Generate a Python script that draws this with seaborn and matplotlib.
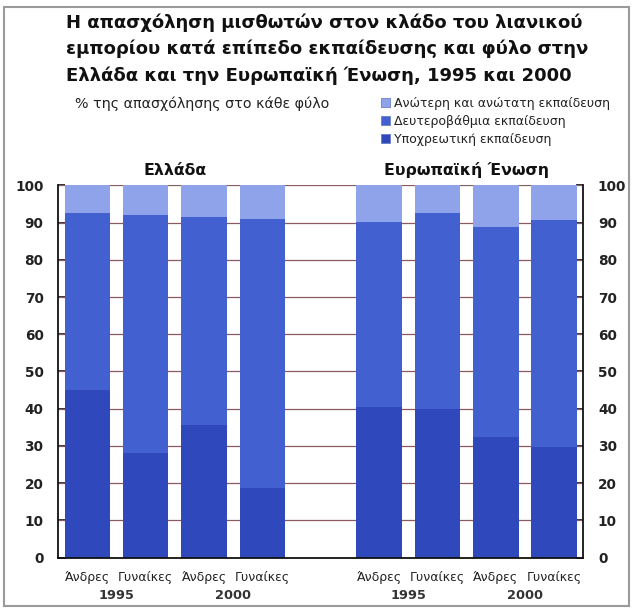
import matplotlib
matplotlib.use("Agg")
import matplotlib.pyplot as plt
import matplotlib.patches as mpatches
import seaborn as sns
import pandas as pd

# ---- data (percent of employment of each sex) ----
bar_ids = ["GR_M_1995", "GR_W_1995", "GR_M_2000", "GR_W_2000",
           "EU_M_1995", "EU_W_1995", "EU_M_2000", "EU_W_2000"]
sex_labels = ["Άνδρες", "Γυναίκες", "Άνδρες", "Γυναίκες",
              "Άνδρες", "Γυναίκες", "Άνδρες", "Γυναίκες"]
year_labels = ["1995", "2000", "1995", "2000"]
compulsory = [45.0, 28.0, 35.5, 18.7, 40.5, 40.0, 32.5, 29.7]
secondary = [47.7, 64.0, 56.0, 72.4, 49.6, 52.7, 56.3, 61.0]
higher = [7.3, 8.0, 8.5, 8.9, 9.9, 7.3, 11.2, 9.3]
series_names = ["Ανώτερη και ανώτατη εκπαίδευση",
                "Δευτεροβάθμια εκπαίδευση",
                "Υποχρεωτική εκπαίδευση"]
panel_titles = ["Ελλάδα", "Ευρωπαϊκή Ένωση"]
title = ("Η απασχόληση μισθωτών στον κλάδο του λιανικού\n"
         "εμπορίου κατά επίπεδο εκπαίδευσης και φύλο στην\n"
         "Ελλάδα και την Ευρωπαϊκή Ένωση, 1995 και 2000")
subtitle = "% της απασχόλησης στο κάθε φύλο"

col_light = "#8ea3ea"
col_mid = "#4260cf"
col_dark = "#2f48bc"

df = pd.DataFrame({"id": bar_ids, "c": compulsory, "s": secondary, "h": higher})
df["top_c"] = df["c"]
df["top_s"] = df["c"] + df["s"]
df["top_h"] = df["c"] + df["s"] + df["h"]

order = bar_ids[:4] + ["gap"] + bar_ids[4:]

sns.set_style("white")
plt.rcParams["font.family"] = ["DejaVu Sans"]

fig = plt.figure(figsize=(6.32, 6.08), dpi=100)
ax = fig.add_axes([0.092, 0.083, 0.831, 0.612])

for col, c in [("top_h", col_light), ("top_s", col_mid), ("top_c", col_dark)]:
    sns.barplot(data=df, x="id", y=col, order=order, color=c, saturation=1,
                width=0.78, ax=ax, zorder=2, linewidth=0)

ax.set_ylim(0, 100)
ax.set_xlim(-0.5, len(order) - 0.5)
ax.set_yticks(range(0, 101, 10))
for yv in range(10, 101, 10):
    ax.axhline(yv, color="#8a5a5e", lw=0.9, zorder=1)

ticks_pos = [order.index(b) for b in bar_ids]
ax.set_xticks(ticks_pos)
ax.set_xticklabels(sex_labels, fontsize=9, color="#222222")
ax.tick_params(axis="x", length=0, pad=10)
ax.tick_params(axis="y", direction="in", length=5, width=1.2, color="#111111",
               labelsize=9.8, labelcolor="#222222", left=True, right=True,
               labelleft=True, labelright=True, pad=10.5)
for lab in ax.yaxis.get_ticklabels(which="both"):
    lab.set_fontweight("bold")
ax.set_xlabel("")
ax.set_ylabel("")

for side in ["left", "right", "bottom"]:
    ax.spines[side].set_visible(True)
    ax.spines[side].set_color("#111111")
    ax.spines[side].set_linewidth(1.3)
ax.spines["top"].set_visible(False)

# year labels centred under each pair of bars
pair_centres = [(ticks_pos[i] + ticks_pos[i + 1]) / 2 for i in range(0, 8, 2)]
for xc, yl in zip(pair_centres, year_labels):
    ax.text(xc, -0.103, yl, transform=ax.get_xaxis_transform(), ha="center",
            va="center", fontsize=9.3, fontweight="bold", color="#333333")

# panel titles
for i, pt in enumerate(panel_titles):
    xc = (ticks_pos[4 * i] + ticks_pos[4 * i + 3]) / 2
    ax.text(xc, 1.02, pt, transform=ax.get_xaxis_transform(), ha="center",
            va="bottom", fontsize=11.3, fontweight="bold", color="#111111")

fig.text(0.105, 0.978, title, ha="left", va="top", fontsize=13,
         fontweight="bold", color="#111111", linespacing=1.55)
fig.text(0.118, 0.829, subtitle, ha="left", va="center", fontsize=10.3,
         color="#222222")

handles = [mpatches.Patch(facecolor=c, edgecolor="#6a7fc8", linewidth=0.6)
           for c in (col_light, col_mid, col_dark)]
fig.legend(handles, series_names, loc="upper left",
           bbox_to_anchor=(0.603, 0.841), frameon=False, fontsize=9,
           handlelength=0.75, handleheight=0.75, handletextpad=0.3,
           labelspacing=0.4, borderaxespad=0, borderpad=0,
           labelcolor="#222222")

fig.patches.append(mpatches.Rectangle((0.007, 0.004), 0.988, 0.984,
                                      transform=fig.transFigure, fill=False,
                                      edgecolor="#9a9a9a", linewidth=1.5))

fig.savefig("out.png", dpi=100)
